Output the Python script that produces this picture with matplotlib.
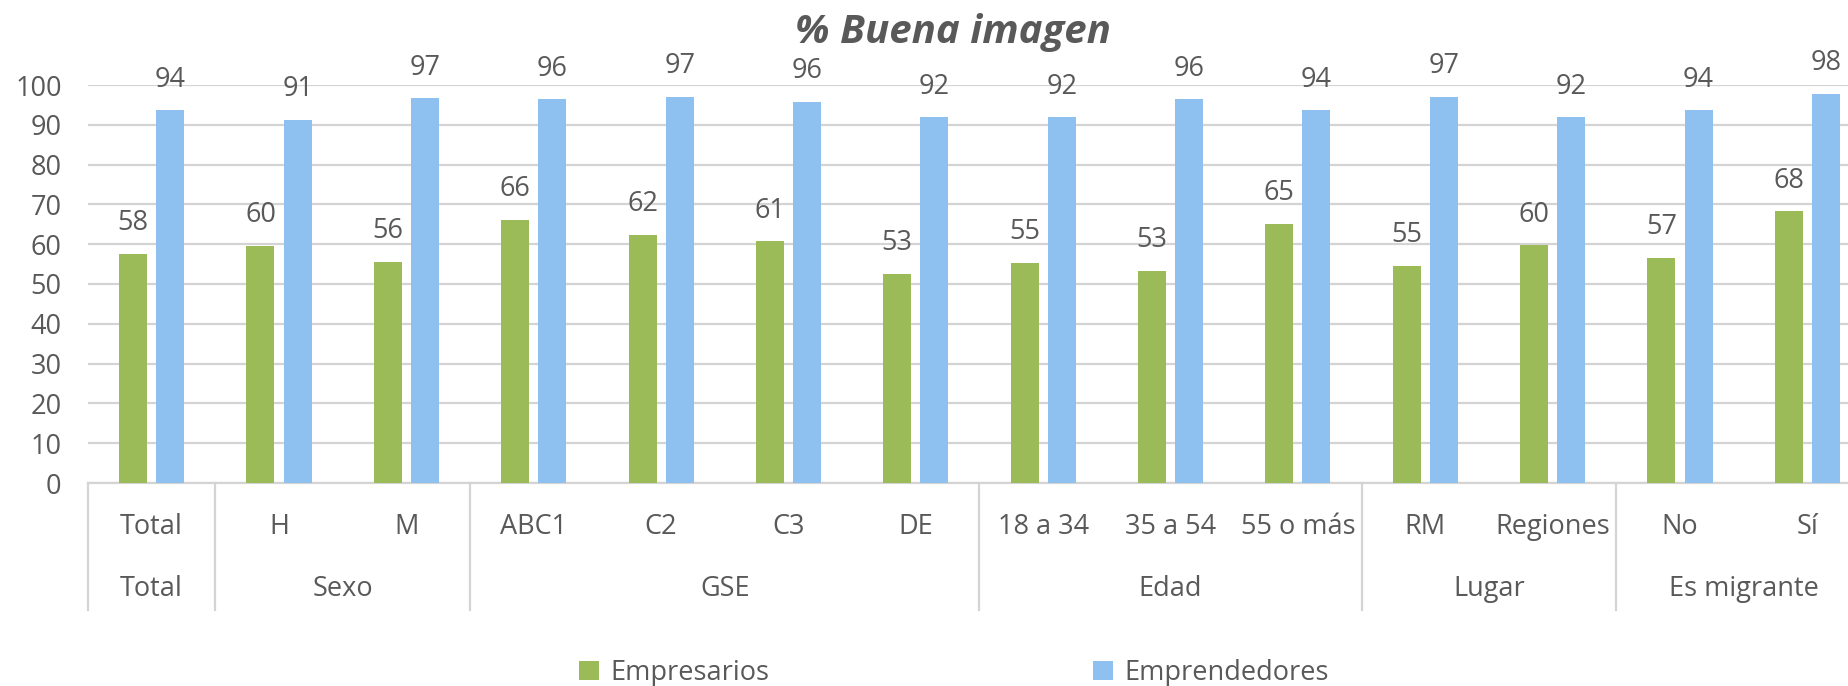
import matplotlib
matplotlib.use("Agg")
import matplotlib.pyplot as plt
import matplotlib.transforms as mtransforms
import numpy as np

categories = ["Total", "H", "M", "ABC1", "C2", "C3", "DE",
              "18 a 34", "35 a 54", "55 o más", "RM", "Regiones", "No", "Sí"]
groups = ["Total", "Sexo", "GSE", "Edad", "Lugar", "Es migrante"]
group_sizes = [1, 2, 4, 3, 2, 2]
empresarios = [57.6, 59.6, 55.6, 66.1, 62.3, 60.7, 52.6, 55.3, 53.3, 65.2, 54.6, 59.7, 56.6, 68.3]
emprendedores = [93.6, 91.2, 96.7, 96.4, 97.0, 95.8, 91.9, 91.9, 96.4, 93.6, 97.0, 91.9, 93.6, 97.8]
series_names = ["Empresarios", "Emprendedores"]
yticks = list(range(0, 101, 10))

plt.rcParams['font.family'] = ['Open Sans', 'DejaVu Sans']
TXT = "#595959"
GREEN = "#9BBB59"
BLUE = "#8FC1F0"
GRID = "#D4D4D4"
FS = 19.5

fig = plt.figure(figsize=(18.49, 6.86), dpi=100)
W, H = 1849, 686
left_px, right_px, top_px, bot_px = 88, 1871, 85, 483
ax = fig.add_axes([left_px / W, 1 - bot_px / H, (right_px - left_px) / W, (bot_px - top_px) / H])

x = np.arange(len(categories))
bw = 0.22
off = 0.146
b1 = ax.bar(x - off, empresarios, bw, color=GREEN, label=series_names[0], zorder=3)
b2 = ax.bar(x + off, emprendedores, bw, color=BLUE, label=series_names[1], zorder=3)

for bars, vals in ((b1, empresarios), (b2, emprendedores)):
    for r, v in zip(bars, vals):
        ax.annotate(f"{v:.0f}", (r.get_x() + r.get_width() / 2, v),
                    xytext=(0, 22), textcoords="offset points",
                    ha="center", va="center", fontsize=FS, color=TXT,
                    annotation_clip=False, clip_on=False)

ax.set_xlim(-0.5, len(categories) - 0.5)
ax.set_ylim(0, 100)
ax.set_yticks(yticks)
ax.yaxis.grid(True, color=GRID, linewidth=1.6, zorder=0)
ax.set_axisbelow(True)
for s in ["top", "right", "left"]:
    ax.spines[s].set_visible(False)
ax.spines["bottom"].set_color(GRID)
ax.spines["bottom"].set_linewidth(1.6)
ax.tick_params(axis="y", length=0, labelsize=FS, labelcolor=TXT, pad=19)
ax.tick_params(axis="x", length=0, labelbottom=False)

trans = mtransforms.blended_transform_factory(ax.transData, ax.transAxes)
span = bot_px - top_px
y_cat = -(527 - bot_px) / span
y_grp = -(589 - bot_px) / span
y_sep = -(610 - bot_px) / span

for xi, c in zip(x, categories):
    ax.text(xi, y_cat, c, transform=trans, ha="center", va="center",
            fontsize=FS, color=TXT, clip_on=False)

start = 0
seps = [-0.5]
for g, n in zip(groups, group_sizes):
    center = start + (n - 1) / 2
    ax.text(center, y_grp, g, transform=trans, ha="center", va="center",
            fontsize=FS, color=TXT, clip_on=False)
    start += n
    seps.append(start - 0.5)
for s in seps:
    ax.plot([s, s], [0, y_sep], transform=trans, color=GRID, linewidth=1.6,
            clip_on=False, zorder=1)

fig.text(953 / W, 1 - 33 / H, "% Buena imagen", ha="center", va="center",
         fontsize=29, fontweight="bold", fontstyle="italic", color=TXT)

for handle, name, xpx in ((b1, series_names[0], 579), (b2, series_names[1], 1093)):
    leg = fig.legend(handles=[handle], labels=[name], loc="center left",
                     bbox_to_anchor=(xpx / W, 1 - 673 / H), frameon=False,
                     fontsize=FS, handlelength=0.75, handleheight=0.75,
                     handletextpad=0.4, borderpad=0, borderaxespad=0)
    for t in leg.get_texts():
        t.set_color(TXT)

fig.savefig("out.png", dpi=100)
